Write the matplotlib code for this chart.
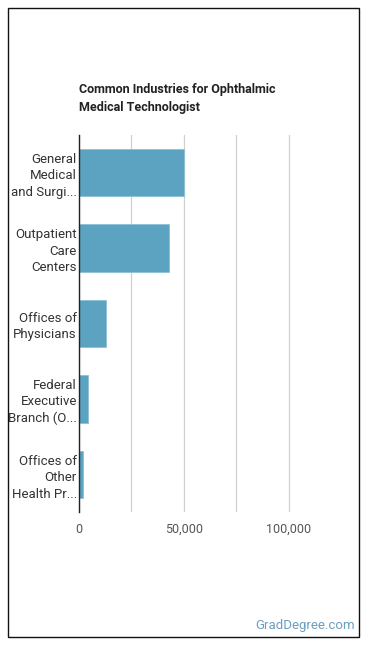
import matplotlib.pyplot as plt
from matplotlib.patches import Rectangle

plt.rcParams['font.family'] = ['Roboto', 'DejaVu Sans']

# data
industries = ["General\nMedical\nand Surgi...", "Outpatient\nCare\nCenters",
              "Offices of\nPhysicians", "Federal\nExecutive\nBranch (O...",
              "Offices of\nOther\nHealth Pr..."]
employees = [50000, 42800, 13000, 4300, 2000]
tick_vals = [0, 50000, 100000]
tick_labels = ["0", "50,000", "100,000"]

fig = plt.figure(figsize=(3.7, 6.48), dpi=100)
ax = fig.add_axes([79/370, 1 - 512/648, 261/370, 377/648])

ypos = list(range(len(industries)))
ax.barh(ypos, employees, height=0.63, color="#5ba3c0", edgecolor="#8cc0d6", linewidth=0.6, zorder=3)
ax.set_ylim(len(industries) - 0.5, -0.5)
ax.set_xlim(0, 124500)

ax.set_yticks(ypos)
ax.set_yticklabels(industries, fontsize=9.5, color="#333333", linespacing=1.35)
ax.set_xticks(tick_vals)
ax.set_xticklabels(tick_labels, fontsize=9, color="#555555")
ax.set_xticks([25000, 75000], minor=True)
ax.tick_params(axis='both', which='both', length=0)
ax.tick_params(axis='x', pad=8)
ax.tick_params(axis='y', pad=1.5)
ax.grid(axis='x', which='both', color="#d0d0d0", linewidth=0.9, zorder=0)

for s in ["top", "right", "bottom"]:
    ax.spines[s].set_visible(False)
ax.spines["left"].set_color("#222222")
ax.spines["left"].set_linewidth(1.0)
ax.spines["left"].set_zorder(4)

fig.text(79/370, 1 - 83/648, "Common Industries for Ophthalmic\nMedical Technologist",
         fontsize=9, fontweight='bold', color="#222222", va='top', ha='left', linespacing=1.5)
fig.text(355/370, 1 - 626/648, "GradDegree.com", fontsize=9.5, color="#6a9fc0",
         ha='right', va='center')

# outer border
fig.patches.append(Rectangle((8/370, 1 - 637/648), 351/370, 629/648, transform=fig.transFigure,
                             fill=False, edgecolor="#111111", linewidth=1.0))

fig.savefig("out.png", dpi=100)
